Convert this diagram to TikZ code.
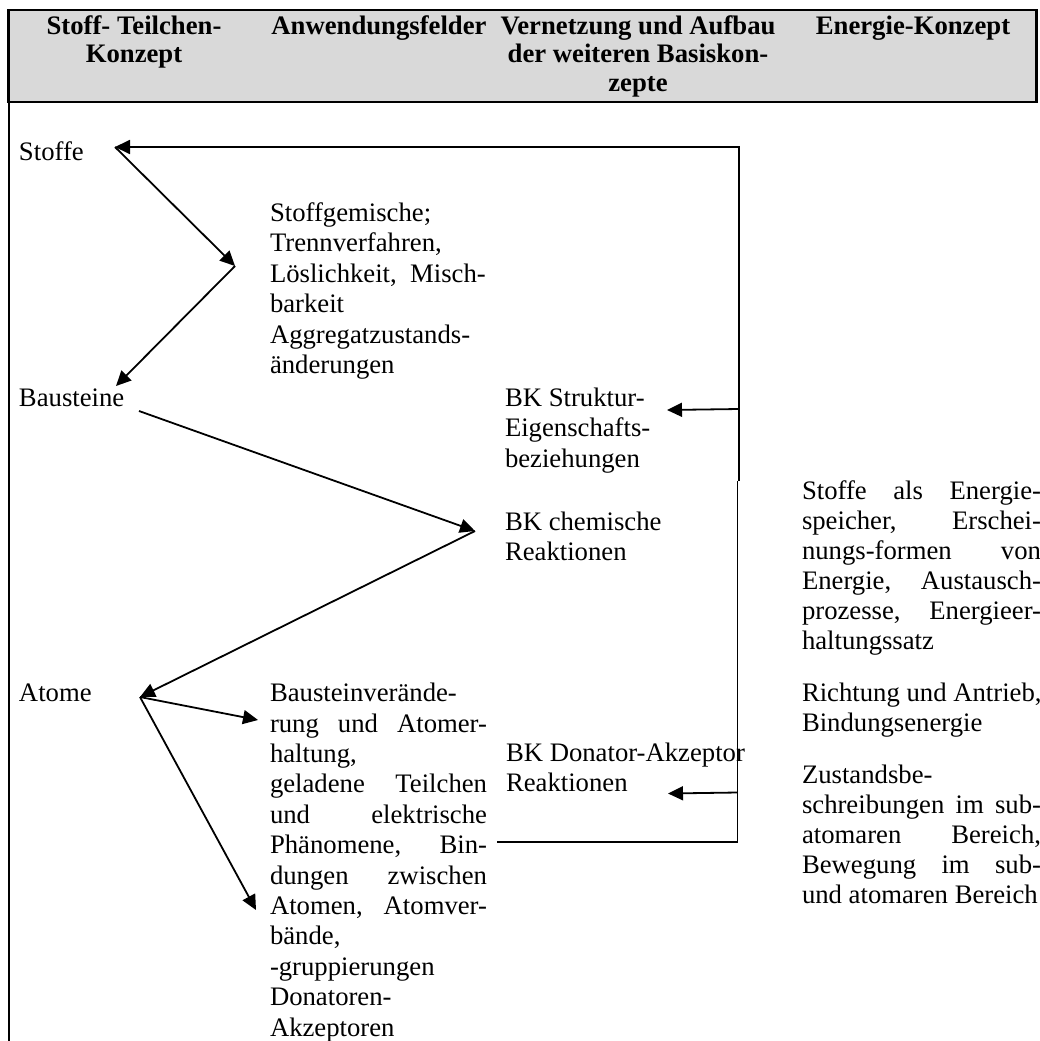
\documentclass[tikz,border=0pt]{standalone}
\usepackage{fontspec}
\setmainfont{Liberation Serif}
\usetikzlibrary{arrows.meta}
\definecolor{headgray}{RGB}{217,217,217}
\newcommand\cl[1]{\hbox to 0pt{\hss#1\hss}}
\newcommand\jl[1]{\hbox to 217pt{#1}}
\newcommand\jr[1]{\hbox to 239pt{#1}}
\newcommand\nl[1]{\hbox{#1}}
\begin{document}
\begin{tikzpicture}[x=1pt,y=-1pt,
  txt/.style={anchor=base west,inner sep=0pt,outer sep=0pt,font=\fontsize{26.7}{30.4}\selectfont},
  head/.style={anchor=base,inner sep=0pt,outer sep=0pt,font=\fontsize{26.7}{28.4}\selectfont\bfseries},
  conn/.style={line width=1.8pt},
  arr/.style={conn,-{Triangle[length=15pt,width=14pt]}},
  frame/.style={line width=2.4pt}]
\useasboundingbox (0,0) rectangle (1040,1041);
\path[fill=white] (0,0) rectangle (1040,1041);
% header
\path[fill=headgray,draw=black,frame] (8.5,10) rectangle (1036.5,102);
\draw[line width=2pt] (8.5,102) -- (8.5,1045);
\node[head] (h1) at (134,34.3) {\vtop{\cl{Stoff- Teilchen-}\cl{Konzept}}};
\node[head] (h2) at (379,34.3) {Anwendungsfelder};
\node[head] (h3) at (638,34.3) {\vtop{\cl{Vernetzung und Aufbau}\cl{der weiteren Basiskon-}\cl{zepte}}};
\node[head] (h4) at (913,34.3) {Energie-Konzept};
% column 1
\node[txt] (stoffe) at (19,160) {Stoffe};
\node[txt] (bausteine) at (19,406.5) {Bausteine};
\node[txt] (atome) at (19,701.7) {Atome};
% column 2
\node[txt] (gemische) at (270,221.5) {\vtop{\nl{Stoffgemische;}\nl{Trennverfahren,}\nl{Löslichkeit,\ \ Misch-}\nl{barkeit}\nl{Aggregatzustands-}\nl{änderungen}}};
\node[txt] (bauver) at (270,701.7) {\vtop{\nl{Bausteinverände-}\jl{rung und Atomer-}\nl{haltung,}\jl{geladene Teilchen}\jl{und elektrische}\jl{Phänomene, Bin-}\jl{dungen zwischen}\jl{Atomen, Atomver-}\nl{bände,}\nl{-gruppierungen}\nl{Donatoren-}\nl{Akzeptoren}}};
% column 3
\node[txt] (struktur) at (505,406.5) {\vtop{\nl{BK Struktur-}\nl{Eigenschafts-}\nl{beziehungen}}};
\node[txt] (chem) at (505,530) {\vtop{\nl{BK chemische}\nl{Reaktionen}}};
\node[txt] (donator) at (506,761) {\vtop{\nl{BK Donator-Akzeptor}\nl{Reaktionen}}};
% column 4
\node[txt,font=\fontsize{26.7}{30}\selectfont] (energie1) at (802,499.5) {\vtop{\jr{Stoffe als Energie-}\jr{speicher, Erschei-}\jr{nungs-formen von}\jr{Energie, Austausch-}\jr{prozesse, Energieer-}\nl{haltungssatz}}};
\node[txt,font=\fontsize{26.7}{30}\selectfont] (energie2) at (802,701.7) {\vtop{\nl{Richtung und Antrieb,}\nl{Bindungsenergie}}};
\node[txt,font=\fontsize{26.7}{30}\selectfont] (energie3) at (802,783.3) {\vtop{\nl{Zustandsbe-}\jr{schreibungen im sub-}\jr{atomaren Bereich,}\jr{Bewegung im sub-}\nl{und atomaren Bereich}}};
% points
\coordinate (stoffeTip) at (115,147);
\coordinate (v1) at (235,266);
\coordinate (bausteineTip) at (116,386);
\coordinate (bausteineStart) at (139,411);
\coordinate (v2) at (475,531);
\coordinate (atomeTip) at (140,697);
\coordinate (bauTip) at (258,720);
\coordinate (bindTip) at (256,910);
\coordinate (rTop) at (739,147);
\coordinate (rMid) at (739,481);
\coordinate (rMid2) at (737.5,481);
\coordinate (rBot) at (737.5,842);
\coordinate (bLeft) at (497,842);
\coordinate (sJoin) at (739,409);
\coordinate (sTip) at (667,410);
\coordinate (dJoin) at (737.5,792.5);
\coordinate (dTip) at (668,793.5);
% connectors
\draw[arr] (rMid) -- (rTop) -- (stoffeTip);
\draw[conn] (rMid2) -- (rBot) -- (bLeft);
\draw[arr] (sJoin) -- (sTip);
\draw[arr] (dJoin) -- (dTip);
\draw[arr] (stoffeTip) -- (v1);
\draw[arr] (v1) -- (bausteineTip);
\draw[arr] (bausteineStart) -- (v2);
\draw[arr] (v2) -- (atomeTip);
\draw[arr] (atomeTip) -- (bauTip);
\draw[arr] (atomeTip) -- (bindTip);
\end{tikzpicture}
\end{document}
